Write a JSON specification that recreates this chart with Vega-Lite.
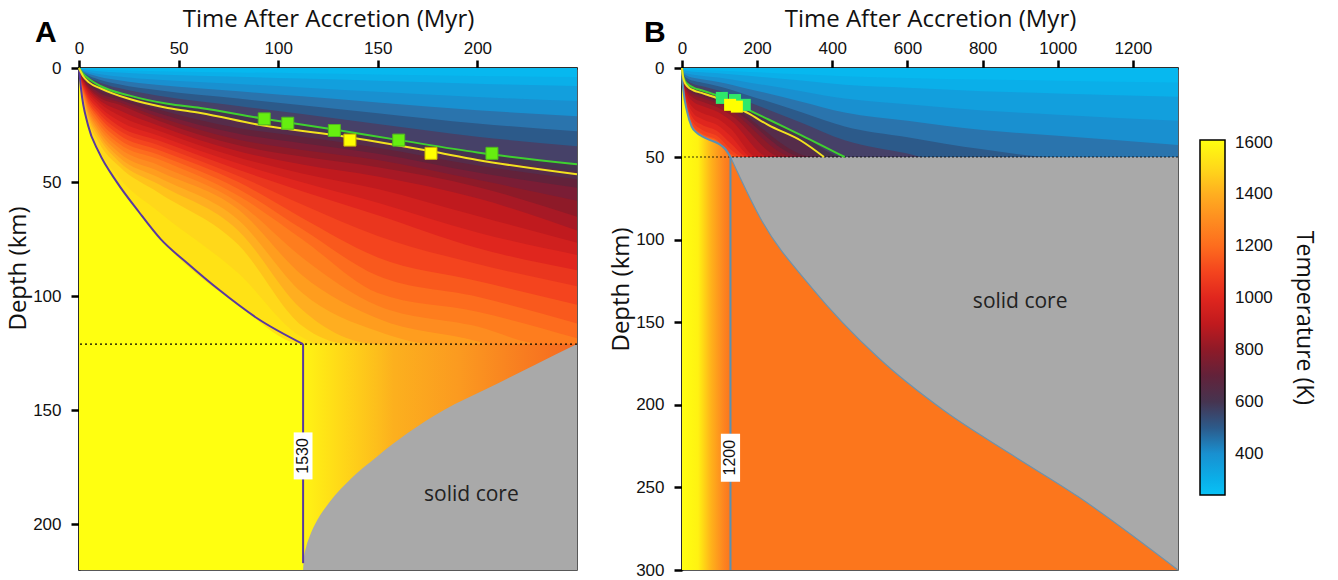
{
  "$schema": "https://vega.github.io/schema/vega-lite/v6.json",
  "background": "white",
  "padding": {"left": 5, "top": 6, "right": 12, "bottom": 5},
  "config": {
    "view": {"stroke": "#222", "strokeWidth": 1.5},
    "concat": {"spacing": 26},
    "axis": {"labelFont": "Liberation Sans", "labelFontSize": 17, "labelColor": "#111", "titleFont": "Open Sans", "titleFontSize": 24, "titleFontWeight": "normal", "titleColor": "#111", "domainColor": "#000", "domainWidth": 2, "tickColor": "#000", "tickWidth": 2.5, "tickSize": 8, "grid": false, "labelFlush": false, "format": "d"},
    "axisTop": {"labelPadding": 3, "titlePadding": 8},
    "axisLeft": {"labelPadding": 10, "titlePadding": 2}
  },
  "datasets": {
    "isoA": [
      {"T":1530,"t":0,"d":0},{"T":1530,"t":1,"d":9},{"T":1530,"t":3,"d":20},{"T":1530,"t":10,"d":37},{"T":1530,"t":20,"d":51},{"T":1530,"t":40,"d":74},{"T":1530,"t":80,"d":104},{"T":1530,"t":112.5,"d":121},{"T":1530,"t":250,"d":121},
      {"T":1500,"t":0,"d":0},{"T":1500,"t":1,"d":8.7},{"T":1500,"t":3,"d":19.1},{"T":1500,"t":10,"d":35.4},{"T":1500,"t":20,"d":48},{"T":1500,"t":40,"d":63},{"T":1500,"t":80,"d":90},{"T":1500,"t":112,"d":118},{"T":1500,"t":121.2,"d":121},{"T":1500,"t":250,"d":121},
      {"T":1450,"t":0,"d":0},{"T":1450,"t":1,"d":8.2},{"T":1450,"t":3,"d":17.6},{"T":1450,"t":10,"d":32.6},{"T":1450,"t":20,"d":43},{"T":1450,"t":40,"d":54.7},{"T":1450,"t":80,"d":77.5},{"T":1450,"t":112,"d":113},{"T":1450,"t":135.6,"d":121},{"T":1450,"t":250,"d":121},
      {"T":1400,"t":0,"d":0},{"T":1400,"t":1,"d":7.8},{"T":1400,"t":3,"d":16.5},{"T":1400,"t":10,"d":30.4},{"T":1400,"t":20,"d":41},{"T":1400,"t":40,"d":51},{"T":1400,"t":80,"d":71.3},{"T":1400,"t":112,"d":106},{"T":1400,"t":150,"d":121},{"T":1400,"t":250,"d":121},
      {"T":1350,"t":0,"d":0},{"T":1350,"t":1,"d":7.5},{"T":1350,"t":3,"d":15.6},{"T":1350,"t":10,"d":28.9},{"T":1350,"t":20,"d":39},{"T":1350,"t":40,"d":48},{"T":1350,"t":80,"d":66.6},{"T":1350,"t":112,"d":98.5},{"T":1350,"t":150,"d":115.4},{"T":1350,"t":177.8,"d":121},{"T":1350,"t":250,"d":121},
      {"T":1300,"t":0,"d":0},{"T":1300,"t":1,"d":7.2},{"T":1300,"t":3,"d":14.7},{"T":1300,"t":10,"d":27.4},{"T":1300,"t":20,"d":37},{"T":1300,"t":40,"d":45.2},{"T":1300,"t":80,"d":62},{"T":1300,"t":112,"d":90.8},{"T":1300,"t":150,"d":109.8},{"T":1300,"t":200,"d":119.7},{"T":1300,"t":205.6,"d":121},{"T":1300,"t":250,"d":121},
      {"T":1250,"t":0,"d":0},{"T":1250,"t":1,"d":6.8},{"T":1250,"t":3,"d":13.9},{"T":1250,"t":10,"d":25.9},{"T":1250,"t":20,"d":35},{"T":1250,"t":40,"d":42.6},{"T":1250,"t":80,"d":59},{"T":1250,"t":112,"d":83},{"T":1250,"t":150,"d":104.2},{"T":1250,"t":200,"d":113.3},{"T":1250,"t":233.3,"d":121},{"T":1250,"t":250,"d":121},
      {"T":1200,"t":0,"d":0},{"T":1200,"t":1,"d":6.5},{"T":1200,"t":3,"d":13},{"T":1200,"t":10,"d":24.4},{"T":1200,"t":20,"d":33.1},{"T":1200,"t":40,"d":40},{"T":1200,"t":80,"d":56},{"T":1200,"t":112,"d":75},{"T":1200,"t":150,"d":98.6},{"T":1200,"t":200,"d":106.8},{"T":1200,"t":250,"d":118.4},
      {"T":1150,"t":0,"d":0},{"T":1150,"t":1,"d":6.1},{"T":1150,"t":3,"d":12.1},{"T":1150,"t":10,"d":22.8},{"T":1150,"t":20,"d":31.2},{"T":1150,"t":40,"d":38},{"T":1150,"t":80,"d":53},{"T":1150,"t":112,"d":70.6},{"T":1150,"t":150,"d":91.1},{"T":1150,"t":200,"d":100.3},{"T":1150,"t":250,"d":112},
      {"T":1100,"t":0,"d":0},{"T":1100,"t":1,"d":5.6},{"T":1100,"t":3,"d":11.3},{"T":1100,"t":10,"d":21.3},{"T":1100,"t":20,"d":29.2},{"T":1100,"t":40,"d":35.9},{"T":1100,"t":80,"d":50},{"T":1100,"t":112,"d":65.7},{"T":1100,"t":150,"d":83},{"T":1100,"t":200,"d":93.3},{"T":1100,"t":250,"d":103.7},
      {"T":1050,"t":0,"d":0},{"T":1050,"t":1,"d":5.2},{"T":1050,"t":3,"d":10.4},{"T":1050,"t":10,"d":19.7},{"T":1050,"t":20,"d":27.3},{"T":1050,"t":40,"d":33.8},{"T":1050,"t":80,"d":47.3},{"T":1050,"t":112,"d":59.8},{"T":1050,"t":150,"d":73.6},{"T":1050,"t":200,"d":85.9},{"T":1050,"t":250,"d":95.6},
      {"T":1000,"t":0,"d":0},{"T":1000,"t":1,"d":4.8},{"T":1000,"t":3,"d":9.6},{"T":1000,"t":10,"d":18.1},{"T":1000,"t":20,"d":25.4},{"T":1000,"t":40,"d":31.8},{"T":1000,"t":80,"d":44.6},{"T":1000,"t":112,"d":54},{"T":1000,"t":150,"d":64.5},{"T":1000,"t":200,"d":78.9},{"T":1000,"t":250,"d":88.6},
      {"T":950,"t":0,"d":0},{"T":950,"t":1,"d":4.4},{"T":950,"t":3,"d":8.7},{"T":950,"t":10,"d":16.6},{"T":950,"t":20,"d":23.1},{"T":950,"t":40,"d":29.7},{"T":950,"t":80,"d":41.9},{"T":950,"t":112,"d":50.1},{"T":950,"t":150,"d":59},{"T":950,"t":200,"d":72.1},{"T":950,"t":250,"d":81.9},
      {"T":900,"t":0,"d":0},{"T":900,"t":1,"d":3.9},{"T":900,"t":3,"d":7.9},{"T":900,"t":10,"d":15},{"T":900,"t":20,"d":20.7},{"T":900,"t":40,"d":27.5},{"T":900,"t":80,"d":39.2},{"T":900,"t":112,"d":46.2},{"T":900,"t":150,"d":53},{"T":900,"t":200,"d":64.9},{"T":900,"t":250,"d":76.6},
      {"T":850,"t":0,"d":0},{"T":850,"t":1,"d":3.5},{"T":850,"t":3,"d":7},{"T":850,"t":10,"d":13.9},{"T":850,"t":20,"d":18.4},{"T":850,"t":40,"d":25.3},{"T":850,"t":80,"d":36.5},{"T":850,"t":112,"d":42.3},{"T":850,"t":150,"d":47.5},{"T":850,"t":200,"d":57.1},{"T":850,"t":250,"d":71.2},
      {"T":800,"t":0,"d":0},{"T":800,"t":1,"d":3.2},{"T":800,"t":3,"d":6.5},{"T":800,"t":10,"d":12.8},{"T":800,"t":20,"d":16},{"T":800,"t":40,"d":23.1},{"T":800,"t":80,"d":33.9},{"T":800,"t":112,"d":38.8},{"T":800,"t":150,"d":43.5},{"T":800,"t":200,"d":52.1},{"T":800,"t":250,"d":65.2},
      {"T":750,"t":0,"d":0},{"T":750,"t":1,"d":2.9},{"T":750,"t":3,"d":5.9},{"T":750,"t":10,"d":11.7},{"T":750,"t":20,"d":14.9},{"T":750,"t":40,"d":21.5},{"T":750,"t":80,"d":31.4},{"T":750,"t":112,"d":35.9},{"T":750,"t":150,"d":40.3},{"T":750,"t":200,"d":49},{"T":750,"t":250,"d":58.2},
      {"T":700,"t":0,"d":0},{"T":700,"t":1,"d":2.6},{"T":700,"t":3,"d":5.3},{"T":700,"t":10,"d":10.7},{"T":700,"t":20,"d":13.8},{"T":700,"t":40,"d":19.8},{"T":700,"t":80,"d":28.8},{"T":700,"t":112,"d":33},{"T":700,"t":150,"d":37.6},{"T":700,"t":200,"d":45.8},{"T":700,"t":250,"d":52.5},
      {"T":650,"t":0,"d":0},{"T":650,"t":1,"d":2.3},{"T":650,"t":3,"d":4.8},{"T":650,"t":10,"d":9.6},{"T":650,"t":20,"d":12.8},{"T":650,"t":40,"d":18.2},{"T":650,"t":80,"d":26.3},{"T":650,"t":112,"d":30.1},{"T":650,"t":150,"d":34.9},{"T":650,"t":200,"d":42.7},{"T":650,"t":250,"d":48.8},
      {"T":600,"t":0,"d":0},{"T":600,"t":1,"d":2},{"T":600,"t":3,"d":4.2},{"T":600,"t":10,"d":8.5},{"T":600,"t":20,"d":11.7},{"T":600,"t":40,"d":16.4},{"T":600,"t":80,"d":23.2},{"T":600,"t":112,"d":27.1},{"T":600,"t":150,"d":32.2},{"T":600,"t":200,"d":39.5},{"T":600,"t":250,"d":45.2},
      {"T":560,"t":0,"d":0},{"T":560,"t":1,"d":1.8},{"T":560,"t":3,"d":3.8},{"T":560,"t":10,"d":7.6},{"T":560,"t":20,"d":10.8},{"T":560,"t":40,"d":15},{"T":560,"t":80,"d":20.4},{"T":560,"t":112,"d":24.8},{"T":560,"t":150,"d":30.1},{"T":560,"t":200,"d":37},{"T":560,"t":250,"d":42.2},
      {"T":500,"t":0,"d":0},{"T":500,"t":1,"d":1.5},{"T":500,"t":3,"d":3.1},{"T":500,"t":10,"d":6.2},{"T":500,"t":20,"d":8.8},{"T":500,"t":40,"d":12.2},{"T":500,"t":80,"d":16.6},{"T":500,"t":112,"d":20.2},{"T":500,"t":150,"d":24.5},{"T":500,"t":200,"d":30.1},{"T":500,"t":250,"d":34.3},
      {"T":450,"t":0,"d":0},{"T":450,"t":1,"d":1.2},{"T":450,"t":3,"d":2.5},{"T":450,"t":10,"d":5},{"T":450,"t":20,"d":7.1},{"T":450,"t":40,"d":9.8},{"T":450,"t":80,"d":13.4},{"T":450,"t":112,"d":16.3},{"T":450,"t":150,"d":19.8},{"T":450,"t":200,"d":24.3},{"T":450,"t":250,"d":27.7},
      {"T":400,"t":0,"d":0},{"T":400,"t":1,"d":0.9},{"T":400,"t":3,"d":1.9},{"T":400,"t":10,"d":3.8},{"T":400,"t":20,"d":5.4},{"T":400,"t":40,"d":7.5},{"T":400,"t":80,"d":10.2},{"T":400,"t":112,"d":12.4},{"T":400,"t":150,"d":15.1},{"T":400,"t":200,"d":18.5},{"T":400,"t":250,"d":21.1},
      {"T":350,"t":0,"d":0},{"T":350,"t":1,"d":0.6},{"T":350,"t":3,"d":1.3},{"T":350,"t":10,"d":2.6},{"T":350,"t":20,"d":3.7},{"T":350,"t":40,"d":5.2},{"T":350,"t":80,"d":7},{"T":350,"t":112,"d":8.5},{"T":350,"t":150,"d":10.4},{"T":350,"t":200,"d":12.7},{"T":350,"t":250,"d":14.5},
      {"T":300,"t":0,"d":0},{"T":300,"t":1,"d":0.34},{"T":300,"t":3,"d":0.71},{"T":300,"t":10,"d":1.43},{"T":300,"t":20,"d":2},{"T":300,"t":40,"d":2.8},{"T":300,"t":80,"d":3.8},{"T":300,"t":112,"d":4.65},{"T":300,"t":150,"d":5.6},{"T":300,"t":200,"d":6.9},{"T":300,"t":250,"d":7.9},
      {"T":270,"t":0,"d":0},{"T":270,"t":1,"d":0.17},{"T":270,"t":3,"d":0.36},{"T":270,"t":10,"d":0.71},{"T":270,"t":20,"d":1.02},{"T":270,"t":40,"d":1.41},{"T":270,"t":80,"d":1.92},{"T":270,"t":112,"d":2.33},{"T":270,"t":150,"d":2.83},{"T":270,"t":200,"d":3.48},{"T":270,"t":250,"d":3.97}
    ],
    "isoB": [
      {"T":1200,"t":0,"d":0},{"T":1200,"t":1,"d":6},{"T":1200,"t":4,"d":13},{"T":1200,"t":13,"d":24},{"T":1200,"t":26,"d":33},{"T":1200,"t":40,"d":36.5},{"T":1200,"t":55,"d":38.5},{"T":1200,"t":75,"d":40.5},{"T":1200,"t":97,"d":42.5},{"T":1200,"t":115,"d":45.5},{"T":1200,"t":129,"d":50},{"T":1200,"t":1320,"d":50},
      {"T":1150,"t":0,"d":0},{"T":1150,"t":2,"d":8.2},{"T":1150,"t":5,"d":14},{"T":1150,"t":15,"d":25},{"T":1150,"t":30,"d":33.4},{"T":1150,"t":52,"d":37.4},{"T":1150,"t":97,"d":41.7},{"T":1150,"t":129,"d":49.1},{"T":1150,"t":141,"d":50},{"T":1150,"t":1320,"d":50},
      {"T":1100,"t":0,"d":0},{"T":1100,"t":2,"d":8},{"T":1100,"t":5,"d":13.8},{"T":1100,"t":15,"d":24.5},{"T":1100,"t":30,"d":32.7},{"T":1100,"t":52,"d":36.7},{"T":1100,"t":97,"d":41},{"T":1100,"t":129,"d":48.2},{"T":1100,"t":153,"d":50},{"T":1100,"t":1320,"d":50},
      {"T":1050,"t":0,"d":0},{"T":1050,"t":2,"d":7.7},{"T":1050,"t":5,"d":13.1},{"T":1050,"t":15,"d":23.2},{"T":1050,"t":30,"d":30.8},{"T":1050,"t":52,"d":34.5},{"T":1050,"t":97,"d":38.7},{"T":1050,"t":129,"d":45.6},{"T":1050,"t":165,"d":50},{"T":1050,"t":1320,"d":50},
      {"T":1000,"t":0,"d":0},{"T":1000,"t":2,"d":7.2},{"T":1000,"t":5,"d":12.3},{"T":1000,"t":15,"d":21.5},{"T":1000,"t":30,"d":28.4},{"T":1000,"t":52,"d":31.8},{"T":1000,"t":97,"d":35.9},{"T":1000,"t":129,"d":42.3},{"T":1000,"t":176,"d":50},{"T":1000,"t":1320,"d":50},
      {"T":950,"t":0,"d":0},{"T":950,"t":2,"d":6.6},{"T":950,"t":5,"d":11.3},{"T":950,"t":15,"d":19.4},{"T":950,"t":30,"d":25.4},{"T":950,"t":52,"d":28.5},{"T":950,"t":97,"d":32.4},{"T":950,"t":129,"d":38.2},{"T":950,"t":188,"d":50},{"T":950,"t":1320,"d":50},
      {"T":900,"t":0,"d":0},{"T":900,"t":2,"d":6},{"T":900,"t":5,"d":10.3},{"T":900,"t":15,"d":17.4},{"T":900,"t":30,"d":22.4},{"T":900,"t":52,"d":25.1},{"T":900,"t":97,"d":28.8},{"T":900,"t":129,"d":34},{"T":900,"t":200,"d":50},{"T":900,"t":1320,"d":50},
      {"T":850,"t":0,"d":0},{"T":850,"t":2,"d":5.3},{"T":850,"t":5,"d":9.2},{"T":850,"t":15,"d":15},{"T":850,"t":30,"d":19},{"T":850,"t":52,"d":21.2},{"T":850,"t":97,"d":24.8},{"T":850,"t":129,"d":29.3},{"T":850,"t":233,"d":50},{"T":850,"t":1320,"d":50},
      {"T":800,"t":0,"d":0},{"T":800,"t":2,"d":4.9},{"T":800,"t":5,"d":8.4},{"T":800,"t":15,"d":13.5},{"T":800,"t":30,"d":16.8},{"T":800,"t":52,"d":18.8},{"T":800,"t":97,"d":22.3},{"T":800,"t":129,"d":26.3},{"T":800,"t":267,"d":50},{"T":800,"t":1320,"d":50},
      {"T":750,"t":0,"d":0},{"T":750,"t":2,"d":4.5},{"T":750,"t":5,"d":7.9},{"T":750,"t":15,"d":12.3},{"T":750,"t":30,"d":15.1},{"T":750,"t":52,"d":16.9},{"T":750,"t":97,"d":20.2},{"T":750,"t":129,"d":24},{"T":750,"t":300,"d":50},{"T":750,"t":1320,"d":50},
      {"T":700,"t":0,"d":0},{"T":700,"t":2,"d":4.3},{"T":700,"t":5,"d":7.5},{"T":700,"t":15,"d":11.5},{"T":700,"t":30,"d":14},{"T":700,"t":52,"d":15.7},{"T":700,"t":97,"d":19},{"T":700,"t":129,"d":22.5},{"T":700,"t":326,"d":50},{"T":700,"t":1320,"d":50},
      {"T":650,"t":0,"d":0},{"T":650,"t":2,"d":4.1},{"T":650,"t":5,"d":7.2},{"T":650,"t":15,"d":11},{"T":650,"t":30,"d":13.2},{"T":650,"t":52,"d":14.7},{"T":650,"t":97,"d":18},{"T":650,"t":129,"d":21.3},{"T":650,"t":352,"d":50},{"T":650,"t":1320,"d":50},
      {"T":600,"t":0,"d":0},{"T":600,"t":2,"d":4},{"T":600,"t":5,"d":7},{"T":600,"t":15,"d":10.5},{"T":600,"t":30,"d":12.5},{"T":600,"t":52,"d":14},{"T":600,"t":97,"d":17.2},{"T":600,"t":140,"d":21.5},{"T":600,"t":177,"d":25.5},{"T":600,"t":229,"d":32},{"T":600,"t":318,"d":41},{"T":600,"t":378,"d":50},{"T":600,"t":1320,"d":50},
      {"T":560,"t":0,"d":0},{"T":560,"t":2,"d":3.5},{"T":560,"t":5,"d":6},{"T":560,"t":15,"d":9},{"T":560,"t":30,"d":11},{"T":560,"t":52,"d":12.5},{"T":560,"t":97,"d":15.6},{"T":560,"t":140,"d":19.5},{"T":560,"t":177,"d":23.5},{"T":560,"t":229,"d":28.8},{"T":560,"t":318,"d":37.8},{"T":560,"t":433,"d":50},{"T":560,"t":1320,"d":50},
      {"T":500,"t":0,"d":0},{"T":500,"t":2,"d":2.84},{"T":500,"t":5,"d":4.88},{"T":500,"t":15,"d":7.31},{"T":500,"t":30,"d":8.94},{"T":500,"t":52,"d":10.16},{"T":500,"t":97,"d":12.68},{"T":500,"t":177,"d":19.1},{"T":500,"t":318,"d":30.7},{"T":500,"t":433,"d":40.6},{"T":500,"t":600,"d":48.1},{"T":500,"t":640,"d":50},{"T":500,"t":1320,"d":50},
      {"T":450,"t":0,"d":0},{"T":450,"t":2,"d":2.3},{"T":450,"t":5,"d":3.94},{"T":450,"t":15,"d":5.9},{"T":450,"t":30,"d":7.22},{"T":450,"t":52,"d":8.2},{"T":450,"t":97,"d":10.23},{"T":450,"t":177,"d":15.4},{"T":450,"t":318,"d":24.8},{"T":450,"t":433,"d":32.8},{"T":450,"t":600,"d":38.9},{"T":450,"t":800,"d":45.7},{"T":450,"t":1000,"d":50},{"T":450,"t":1320,"d":50},
      {"T":400,"t":0,"d":0},{"T":400,"t":2,"d":1.75},{"T":400,"t":5,"d":3},{"T":400,"t":15,"d":4.5},{"T":400,"t":30,"d":5.5},{"T":400,"t":52,"d":6.25},{"T":400,"t":97,"d":7.8},{"T":400,"t":177,"d":11.75},{"T":400,"t":318,"d":18.9},{"T":400,"t":433,"d":25},{"T":400,"t":600,"d":29.6},{"T":400,"t":800,"d":34.8},{"T":400,"t":1000,"d":38.1},{"T":400,"t":1320,"d":43.2},
      {"T":350,"t":0,"d":0},{"T":350,"t":2,"d":1.2},{"T":350,"t":5,"d":2.06},{"T":350,"t":15,"d":3.1},{"T":350,"t":30,"d":3.78},{"T":350,"t":52,"d":4.3},{"T":350,"t":97,"d":5.37},{"T":350,"t":177,"d":8.08},{"T":350,"t":318,"d":13},{"T":350,"t":433,"d":17.2},{"T":350,"t":600,"d":20.4},{"T":350,"t":800,"d":23.9},{"T":350,"t":1000,"d":26.2},{"T":350,"t":1320,"d":29.7},
      {"T":300,"t":0,"d":0},{"T":300,"t":2,"d":0.66},{"T":300,"t":5,"d":1.13},{"T":300,"t":15,"d":1.69},{"T":300,"t":30,"d":2.06},{"T":300,"t":52,"d":2.34},{"T":300,"t":97,"d":2.93},{"T":300,"t":177,"d":4.41},{"T":300,"t":318,"d":7.09},{"T":300,"t":433,"d":9.4},{"T":300,"t":600,"d":11.1},{"T":300,"t":800,"d":13},{"T":300,"t":1000,"d":14.3},{"T":300,"t":1320,"d":16.2},
      {"T":270,"t":0,"d":0},{"T":270,"t":2,"d":0.33},{"T":270,"t":5,"d":0.56},{"T":270,"t":15,"d":0.85},{"T":270,"t":30,"d":1.03},{"T":270,"t":52,"d":1.18},{"T":270,"t":97,"d":1.47},{"T":270,"t":177,"d":2.21},{"T":270,"t":318,"d":3.55},{"T":270,"t":433,"d":4.7},{"T":270,"t":600,"d":5.56},{"T":270,"t":800,"d":6.5},{"T":270,"t":1000,"d":7.1},{"T":270,"t":1320,"d":8.1}
    ],
    "purpleA": [{"t":0,"d":0},{"t":1,"d":9},{"t":4.5,"d":25},{"t":10,"d":37},{"t":19,"d":50},{"t":30,"d":63},{"t":41,"d":75},{"t":55,"d":86},{"t":70,"d":97},{"t":90,"d":110},{"t":112.5,"d":121}],
    "greenA": [{"t":0,"d":0},{"t":2,"d":2.5},{"t":5,"d":4.8},{"t":11,"d":8},{"t":25,"d":12},{"t":44.5,"d":15.7},{"t":61,"d":17.5},{"t":91,"d":22},{"t":128,"d":27},{"t":160,"d":31.5},{"t":200,"d":37},{"t":250,"d":42.2}],
    "yellowA": [{"t":0,"d":0},{"t":2,"d":3.5},{"t":5,"d":6.3},{"t":11,"d":9},{"t":25,"d":13.5},{"t":44.5,"d":17.5},{"t":61,"d":19.7},{"t":91,"d":25},{"t":128,"d":29.4},{"t":176,"d":36.4},{"t":200,"d":40.3},{"t":250,"d":46.6}],
    "sqGreenA": [{"t":93,"d":22.3},{"t":104.8,"d":24.2},{"t":128.2,"d":27.4},{"t":160.5,"d":31.6},{"t":207.3,"d":37.4}],
    "sqYellowA": [{"t":136,"d":31.6},{"t":176.7,"d":37.4}],
    "solidA": [{"t":112.5,"d":220},{"t":112.9,"d":215},{"t":114,"d":210},{"t":115.9,"d":205},{"t":118.5,"d":200},{"t":126,"d":190},{"t":136.5,"d":180},{"t":150,"d":170},{"t":165,"d":160},{"t":183,"d":150},{"t":206,"d":140},{"t":229,"d":130},{"t":250,"d":121}],
    "greenB": [{"t":0,"d":0},{"t":2,"d":3.5},{"t":5,"d":6},{"t":15,"d":9},{"t":30,"d":11},{"t":52,"d":12.5},{"t":97,"d":15.6},{"t":140,"d":19.5},{"t":177,"d":23.5},{"t":229,"d":28.8},{"t":318,"d":37.8},{"t":433,"d":50}],
    "yellowB": [{"t":0,"d":0},{"t":2,"d":4},{"t":5,"d":7},{"t":15,"d":10.5},{"t":30,"d":12.5},{"t":52,"d":14},{"t":97,"d":17.2},{"t":140,"d":21.5},{"t":177,"d":25.5},{"t":229,"d":32},{"t":318,"d":41},{"t":378,"d":50}],
    "steelB": [{"t":0,"d":0},{"t":1,"d":6},{"t":4,"d":13},{"t":13,"d":24},{"t":26,"d":33},{"t":40,"d":36.5},{"t":55,"d":38.5},{"t":75,"d":40.5},{"t":97,"d":42.5},{"t":115,"d":45.5},{"t":129,"d":50}],
    "solidB": [{"t":129,"d":50},{"t":212,"d":88.4},{"t":345,"d":129},{"t":522,"d":171.4},{"t":699,"d":203.8},{"t":876,"d":230},{"t":1053,"d":255.4},{"t":1320,"d":300}],
    "sqGreenB": [{"t":106,"d":16.8},{"t":141,"d":18},{"t":167,"d":20.7}],
    "sqYellowB": [{"t":128,"d":20.7},{"t":146,"d":21.7}]
  },
  "hconcat": [
    {
      "width": 498,
      "height": 502,
      "title": {"text": "A", "anchor": "start", "frame": "group", "font": "Liberation Sans", "fontSize": 30, "fontWeight": "bold", "color": "#000", "dx": -44, "dy": 41, "offset": 0},
      "layer": [
        {
          "data": {"values": [{"t": 0, "t2": 250, "d": 0, "d2": 220}]},
          "mark": {"type": "rect", "color": "#ffff10"},
          "encoding": {
            "x": {"field": "t", "type": "quantitative", "scale": {"domain": [0, 250], "nice": false, "zero": false}, "axis": {"orient": "top", "title": "Time After Accretion (Myr)", "values": [0, 50, 100, 150, 200]}},
            "x2": {"field": "t2"},
            "y": {"field": "d", "type": "quantitative", "scale": {"domain": [0, 220], "nice": false, "reverse": true}, "axis": {"orient": "left", "title": "Depth (km)", "titleY": 200, "values": [0, 50, 100, 150, 200]}},
            "y2": {"field": "d2"}
          }
        },
        {
          "data": {"values": [{"t": 112.5, "t2": 250, "d": 121, "d2": 220}]},
          "mark": {"type": "rect", "color": {"gradient": "linear", "x1": 0, "y1": 0, "x2": 1, "y2": 0, "stops": [{"offset": 0, "color": "#fff414"}, {"offset": 0.14, "color": "#ffd818"}, {"offset": 0.27, "color": "#fdbe1c"}, {"offset": 0.33, "color": "#fcb01e"}, {"offset": 0.57, "color": "#fb9a20"}, {"offset": 0.81, "color": "#f87c20"}, {"offset": 1, "color": "#f56820"}]}},
          "encoding": {"x": {"field": "t", "type": "quantitative"}, "x2": {"field": "t2"}, "y": {"field": "d", "type": "quantitative"}, "y2": {"field": "d2"}}
        },
        {
          "data": {"name": "isoA"},
          "mark": {"type": "area", "interpolate": "monotone"},
          "encoding": {
            "x": {"field": "t", "type": "quantitative"},
            "y": {"field": "d", "type": "quantitative", "stack": null},
            "y2": {"datum": 0},
            "detail": {"field": "T", "type": "nominal"},
            "color": {"field": "T", "type": "quantitative",
              "scale": {"domain": [240, 400, 500, 600, 700, 800, 900, 1000, 1100, 1200, 1300, 1400, 1500, 1610], "range": ["#08c2f6", "#1990d0", "#2c5a8a", "#463450", "#62223a", "#8e1a28", "#c01a1e", "#e0261e", "#f4441e", "#fd6c1e", "#fe8c20", "#ffae20", "#ffd81a", "#ffff10"]},
              "legend": {"title": "Temperature (K)", "orient": "none", "legendX": 1121, "legendY": 72, "direction": "vertical", "format": "d", "gradientLength": 355, "gradientThickness": 25, "values": [400, 600, 800, 1000, 1200, 1400, 1600], "labelFont": "Liberation Sans", "labelFontSize": 17, "labelColor": "#111", "labelOffset": 10, "titleFont": "Open Sans", "titleFontSize": 23, "titleFontWeight": "normal", "titleColor": "#111", "titleOrient": "right", "titleAngle": 90, "titleAnchor": "middle", "titlePadding": 19, "titleLimit": 400, "gradientStrokeColor": "#000", "gradientStrokeWidth": 1.5}}
          }
        },
        {
          "data": {"name": "solidA"},
          "mark": {"type": "area", "color": "#a9a9a9", "interpolate": "monotone"},
          "encoding": {"x": {"field": "t", "type": "quantitative"}, "y": {"field": "d", "type": "quantitative", "stack": null}, "y2": {"datum": 220}}
        },
        {
          "data": {"values": [{}]},
          "mark": {"type": "rule", "color": "#000", "strokeDash": [2, 3], "strokeWidth": 1.2},
          "encoding": {"y": {"datum": 121}}
        },
        {
          "data": {"name": "purpleA"},
          "mark": {"type": "line", "color": "#5838a0", "strokeWidth": 2, "interpolate": "monotone"},
          "encoding": {"x": {"field": "t", "type": "quantitative"}, "y": {"field": "d", "type": "quantitative"}}
        },
        {
          "data": {"values": [{}]},
          "mark": {"type": "rule", "color": "#5838a0", "strokeWidth": 2},
          "encoding": {"x": {"datum": 112.5}, "y": {"datum": 121}, "y2": {"datum": 217}}
        },
        {
          "data": {"name": "greenA"},
          "mark": {"type": "line", "color": "#3fd12f", "strokeWidth": 2, "interpolate": "monotone"},
          "encoding": {"x": {"field": "t", "type": "quantitative"}, "y": {"field": "d", "type": "quantitative"}}
        },
        {
          "data": {"name": "yellowA"},
          "mark": {"type": "line", "color": "#f3e21f", "strokeWidth": 2, "interpolate": "monotone"},
          "encoding": {"x": {"field": "t", "type": "quantitative"}, "y": {"field": "d", "type": "quantitative"}}
        },
        {
          "data": {"name": "sqGreenA"},
          "mark": {"type": "point", "shape": "square", "filled": true, "size": 144, "color": "#66ee10", "opacity": 1, "stroke": "#4fb820", "strokeWidth": 1},
          "encoding": {"x": {"field": "t", "type": "quantitative"}, "y": {"field": "d", "type": "quantitative"}}
        },
        {
          "data": {"name": "sqYellowA"},
          "mark": {"type": "point", "shape": "square", "filled": true, "size": 144, "color": "#ffff00", "opacity": 1, "stroke": "#c8b400", "strokeWidth": 1},
          "encoding": {"x": {"field": "t", "type": "quantitative"}, "y": {"field": "d", "type": "quantitative"}}
        },
        {
          "data": {"values": [{"t": 112.5, "d": 170, "label": "1530"}]},
          "mark": {"type": "point", "shape": "M-0.4,-1H0.4V1H-0.4Z", "filled": true, "size": 2209, "color": "#ffffff", "opacity": 1},
          "encoding": {"x": {"field": "t", "type": "quantitative"}, "y": {"field": "d", "type": "quantitative"}}
        },
        {
          "data": {"values": [{"t": 112.5, "d": 170, "label": "1530"}]},
          "mark": {"type": "text", "angle": 270, "font": "Liberation Sans", "fontSize": 16, "color": "#111", "align": "center", "baseline": "middle"},
          "encoding": {"x": {"field": "t", "type": "quantitative"}, "y": {"field": "d", "type": "quantitative"}, "text": {"field": "label"}}
        },
        {
          "data": {"values": [{"t": 197, "d": 187, "label": "solid core"}]},
          "mark": {"type": "text", "font": "Open Sans", "fontSize": 21, "color": "#222", "align": "center", "baseline": "middle"},
          "encoding": {"x": {"field": "t", "type": "quantitative"}, "y": {"field": "d", "type": "quantitative"}, "text": {"field": "label"}}
        }
      ]
    },
    {
      "width": 496,
      "height": 502,
      "title": {"text": "B", "anchor": "start", "frame": "group", "font": "Liberation Sans", "fontSize": 30, "fontWeight": "bold", "color": "#000", "dx": -38, "dy": 41, "offset": 0},
      "layer": [
        {
          "data": {"values": [{"t": 0, "t2": 129, "d": 0, "d2": 300}]},
          "mark": {"type": "rect", "color": {"gradient": "linear", "x1": 0, "y1": 0, "x2": 1, "y2": 0, "stops": [{"offset": 0, "color": "#ffff10"}, {"offset": 0.33, "color": "#fff212"}, {"offset": 0.6, "color": "#ffb21a"}, {"offset": 0.88, "color": "#fd8220"}, {"offset": 1, "color": "#fc761c"}]}},
          "encoding": {
            "x": {"field": "t", "type": "quantitative", "scale": {"domain": [0, 1320], "nice": false, "zero": false}, "axis": {"orient": "top", "title": "Time After Accretion (Myr)", "values": [0, 200, 400, 600, 800, 1000, 1200]}},
            "x2": {"field": "t2"},
            "y": {"field": "d", "type": "quantitative", "scale": {"domain": [0, 50, 300], "range": [0, 89, 502], "nice": false}, "axis": {"orient": "left", "title": "Depth (km)", "titleY": 221, "values": [0, 50, 100, 150, 200, 250, 300]}},
            "y2": {"field": "d2"}
          }
        },
        {
          "data": {"values": [{"t": 129, "t2": 1320, "d": 50, "d2": 300}]},
          "mark": {"type": "rect", "color": "#fc761c"},
          "encoding": {"x": {"field": "t", "type": "quantitative"}, "x2": {"field": "t2"}, "y": {"field": "d", "type": "quantitative"}, "y2": {"field": "d2"}}
        },
        {
          "data": {"name": "isoB"},
          "mark": {"type": "area", "interpolate": "monotone"},
          "encoding": {
            "x": {"field": "t", "type": "quantitative"},
            "y": {"field": "d", "type": "quantitative", "stack": null},
            "y2": {"datum": 0},
            "detail": {"field": "T", "type": "nominal"},
            "color": {"field": "T", "type": "quantitative",
              "scale": {"domain": [240, 400, 500, 600, 700, 800, 900, 1000, 1100, 1200, 1300, 1400, 1500, 1610], "range": ["#08c2f6", "#1990d0", "#2c5a8a", "#463450", "#62223a", "#8e1a28", "#c01a1e", "#e0261e", "#f4441e", "#fd6c1e", "#fe8c20", "#ffae20", "#ffd81a", "#ffff10"]},
              "legend": {"title": "Temperature (K)", "orient": "none", "legendX": 1121, "legendY": 72, "direction": "vertical", "format": "d", "gradientLength": 355, "gradientThickness": 25, "values": [400, 600, 800, 1000, 1200, 1400, 1600], "labelFont": "Liberation Sans", "labelFontSize": 17, "labelColor": "#111", "labelOffset": 10, "titleFont": "Open Sans", "titleFontSize": 23, "titleFontWeight": "normal", "titleColor": "#111", "titleOrient": "right", "titleAngle": 90, "titleAnchor": "middle", "titlePadding": 19, "titleLimit": 400, "gradientStrokeColor": "#000", "gradientStrokeWidth": 1.5}}
          }
        },
        {
          "data": {"name": "solidB"},
          "mark": {"type": "area", "color": "#a9a9a9", "interpolate": "monotone"},
          "encoding": {"x": {"field": "t", "type": "quantitative"}, "y": {"field": "d", "type": "quantitative", "stack": null}, "y2": {"datum": 50}}
        },
        {
          "data": {"name": "solidB"},
          "mark": {"type": "line", "color": "#6d93ad", "strokeWidth": 1.2, "interpolate": "monotone"},
          "encoding": {"x": {"field": "t", "type": "quantitative"}, "y": {"field": "d", "type": "quantitative"}}
        },
        {
          "data": {"values": [{}]},
          "mark": {"type": "rule", "color": "#000", "strokeDash": [2, 2], "strokeWidth": 1.2, "opacity": 0.8},
          "encoding": {"y": {"datum": 50}}
        },
        {
          "data": {"name": "steelB"},
          "mark": {"type": "line", "color": "#5a90b4", "strokeWidth": 2, "interpolate": "monotone"},
          "encoding": {"x": {"field": "t", "type": "quantitative"}, "y": {"field": "d", "type": "quantitative"}}
        },
        {
          "data": {"values": [{}]},
          "mark": {"type": "rule", "color": "#5a90b4", "strokeWidth": 2},
          "encoding": {"x": {"datum": 129}, "y": {"datum": 50}, "y2": {"datum": 300}}
        },
        {
          "data": {"name": "greenB"},
          "mark": {"type": "line", "color": "#3fd12f", "strokeWidth": 2, "interpolate": "monotone"},
          "encoding": {"x": {"field": "t", "type": "quantitative"}, "y": {"field": "d", "type": "quantitative"}}
        },
        {
          "data": {"name": "yellowB"},
          "mark": {"type": "line", "color": "#f3e21f", "strokeWidth": 2, "interpolate": "monotone"},
          "encoding": {"x": {"field": "t", "type": "quantitative"}, "y": {"field": "d", "type": "quantitative"}}
        },
        {
          "data": {"name": "sqGreenB"},
          "mark": {"type": "point", "shape": "square", "filled": true, "size": 144, "color": "#2ee86a", "opacity": 1},
          "encoding": {"x": {"field": "t", "type": "quantitative"}, "y": {"field": "d", "type": "quantitative"}}
        },
        {
          "data": {"name": "sqYellowB"},
          "mark": {"type": "point", "shape": "square", "filled": true, "size": 144, "color": "#ffff00", "opacity": 1},
          "encoding": {"x": {"field": "t", "type": "quantitative"}, "y": {"field": "d", "type": "quantitative"}}
        },
        {
          "data": {"values": [{"t": 129, "d": 232, "label": "1200"}]},
          "mark": {"type": "point", "shape": "M-0.4,-1H0.4V1H-0.4Z", "filled": true, "size": 2304, "color": "#ffffff", "opacity": 1},
          "encoding": {"x": {"field": "t", "type": "quantitative"}, "y": {"field": "d", "type": "quantitative"}}
        },
        {
          "data": {"values": [{"t": 129, "d": 232, "label": "1200"}]},
          "mark": {"type": "text", "angle": 270, "font": "Liberation Sans", "fontSize": 16, "color": "#111", "align": "center", "baseline": "middle"},
          "encoding": {"x": {"field": "t", "type": "quantitative"}, "y": {"field": "d", "type": "quantitative"}, "text": {"field": "label"}}
        },
        {
          "data": {"values": [{"t": 900, "d": 138, "label": "solid core"}]},
          "mark": {"type": "text", "font": "Open Sans", "fontSize": 21, "color": "#222", "align": "center", "baseline": "middle"},
          "encoding": {"x": {"field": "t", "type": "quantitative"}, "y": {"field": "d", "type": "quantitative"}, "text": {"field": "label"}}
        }
      ]
    }
  ],
  "resolve": {"scale": {"color": "shared"}}
}
